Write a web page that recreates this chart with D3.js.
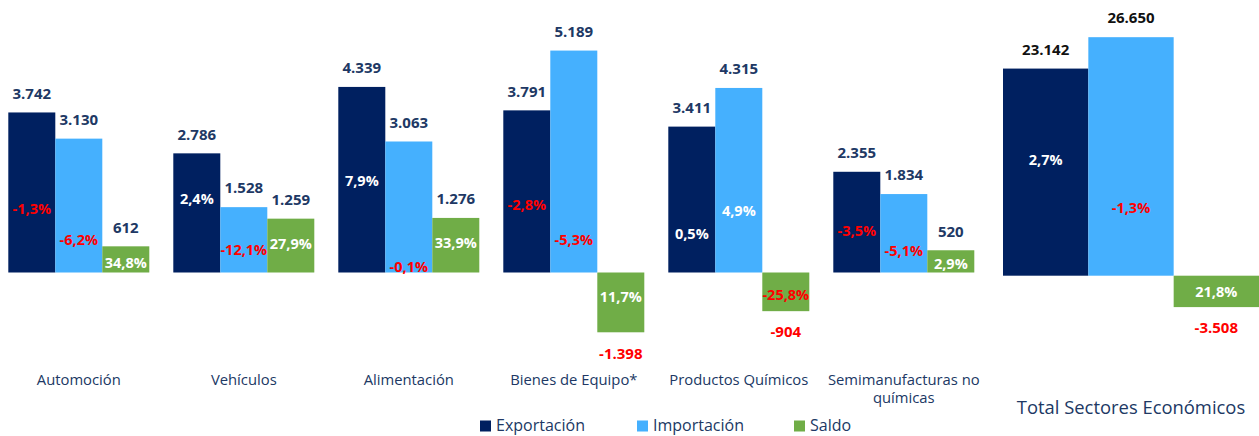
<!DOCTYPE html>
<html>
<head>
<meta charset="utf-8">
<script src="https://cdn.jsdelivr.net/npm/d3@7"></script>
<style>
  body { margin: 0; background: #fff; }
  svg text { font-family: "Open Sans", "Noto Sans", sans-serif; }
</style>
</head>
<body>
<svg id="chart" width="1259" height="436"></svg>
<script>
// sectors (left panel)
const categories = ["Automoción", "Vehículos", "Alimentación", "Bienes de Equipo*", "Productos Químicos", "Semimanufacturas no químicas"];
const exportacion = [3742, 2786, 4339, 3791, 3411, 2355];
const importacion = [3130, 1528, 3063, 5189, 4315, 1834];
const saldo = [612, 1259, 1276, -1398, -904, 520];
// year-on-year change, shown inside the bars
const expPct = [-1.3, 2.4, 7.9, -2.8, 0.5, -3.5];
const impPct = [-6.2, -12.1, -0.1, -5.3, 4.9, -5.1];
const saldoPct = [34.8, 27.9, 33.9, 11.7, -25.8, 2.9];
// level (in value units) where the % labels sit
const expPctAt = [1480, 1720, 2140, 1580, 900, 970];
const impPctAt = [760, 526, 129, 760, 1438, 503];
const saldoPctAt = [222, 666, 690, -573, -526, 199];

// total (right panel)
const totalCategory = ["Total Sectores Económicos"];
const totalValues = [23142, 26650, -3508];
const totalPct = [2.7, -1.3, 21.8];
const totalPctAt = [12927, 7564, -1821];

const seriesNames = ["Exportación", "Importación", "Saldo"];
const colors = ["#002060", "#45B0FE", "#70AD47"];

const svg = d3.select("#chart");
const navy = "#203864";
const red = "#FF0000";

const fmtVal = v => (v < 0 ? "-" : "") + d3.format(",")(Math.abs(v)).replace(/,/g, ".");
const fmtPct = v => v.toFixed(1).replace(".", ",") + "%";

// ---- left panel ----
const x0 = d3.scaleBand().domain(categories).range([-3.7, 986.3])
  .paddingInner(24 / 165).paddingOuter(12 / 165);
const x1 = d3.scaleBand().domain(seriesNames).range([0, x0.bandwidth()]);
const y = d3.scaleLinear().domain([-2000, 5500]).range([358.04, 37.27]);

const rows = categories.map((c, i) => ({
  cat: c,
  bars: [
    { s: 0, v: exportacion[i], p: expPct[i], at: expPctAt[i] },
    { s: 1, v: importacion[i], p: impPct[i], at: impPctAt[i] },
    { s: 2, v: saldo[i], p: saldoPct[i], at: saldoPctAt[i] }
  ]
}));

function drawGroup(g, bars, xs, ys, valColor) {
  const w = xs.bandwidth();
  g.selectAll("rect").data(bars).enter().append("rect")
    .attr("x", d => xs(seriesNames[d.s]))
    .attr("y", d => ys(Math.max(0, d.v)))
    .attr("width", w)
    .attr("height", d => Math.abs(ys(d.v) - ys(0)))
    .attr("fill", d => colors[d.s]);

  // value labels
  g.selectAll("text.val").data(bars).enter().append("text")
    .attr("class", "val")
    .attr("x", d => xs(seriesNames[d.s]) + w / 2)
    .attr("y", d => d.v >= 0 ? ys(d.v) - 19 : ys(d.v) + 21)
    .attr("dy", "0.35em")
    .attr("text-anchor", "middle")
    .attr("font-size", 15)
    .attr("font-weight", 700)
    .attr("fill", d => d.v < 0 ? red : valColor)
    .text(d => fmtVal(d.v));

  // percentage labels
  g.selectAll("text.pct").data(bars).enter().append("text")
    .attr("class", "pct")
    .attr("x", d => xs(seriesNames[d.s]) + w / 2)
    .attr("y", d => ys(d.at))
    .attr("dy", "0.35em")
    .attr("text-anchor", "middle")
    .attr("font-size", 14.5)
    .attr("font-weight", 700)
    .attr("fill", d => d.p < 0 ? red : "#fff")
    .text(d => fmtPct(d.p));
}

const groups = svg.append("g").selectAll("g").data(rows).enter().append("g")
  .attr("transform", d => `translate(${x0(d.cat)},0)`);
groups.each(function (d) { drawGroup(d3.select(this), d.bars, x1, y, navy); });

// category labels
const catLabels = svg.append("g").selectAll("text").data(categories).enter().append("text")
  .attr("x", d => x0(d) + x0.bandwidth() / 2)
  .attr("y", 380)
  .attr("dy", "0.35em")
  .attr("text-anchor", "middle")
  .attr("font-size", 14.8)
  .attr("fill", navy);
catLabels.each(function (d) {
  const t = d3.select(this);
  if (d === "Semimanufacturas no químicas") {
    t.append("tspan").attr("x", t.attr("x")).text("Semimanufacturas no");
    t.append("tspan").attr("x", t.attr("x")).attr("dy", 18).text("químicas");
  } else {
    t.text(d);
  }
});

// ---- right panel (total) ----
const xt0 = d3.scaleBand().domain(totalCategory).range([1003, 1259]);
const xt1 = d3.scaleBand().domain(seriesNames).range([0, xt0.bandwidth()]);
const yt = d3.scaleLinear().domain([-4000, 28000]).range([311.5, 25.1]);

const totalBars = totalValues.map((v, i) => ({ s: i, v: v, p: totalPct[i], at: totalPctAt[i] }));
const tg = svg.append("g").attr("transform", `translate(${xt0(totalCategory[0])},0)`);
drawGroup(tg, totalBars, xt1, yt, "#111");

svg.append("text")
  .attr("x", xt0(totalCategory[0]) + xt0.bandwidth() / 2)
  .attr("y", 408)
  .attr("dy", "0.35em")
  .attr("text-anchor", "middle")
  .attr("font-size", 18.4)
  .attr("fill", navy)
  .text(totalCategory[0]);

// ---- legend ----
const legendX = [480, 637, 794];
const legend = svg.append("g").selectAll("g").data(seriesNames).enter().append("g")
  .attr("transform", (d, i) => `translate(${legendX[i]},425)`);
legend.append("rect").attr("x", 0).attr("y", -4.5).attr("width", 11).attr("height", 11)
  .attr("fill", (d, i) => colors[i]);
legend.append("text").attr("x", 16).attr("dy", "0.35em")
  .attr("font-size", 16).attr("fill", navy).text(d => d);
</script>
</body>
</html>
